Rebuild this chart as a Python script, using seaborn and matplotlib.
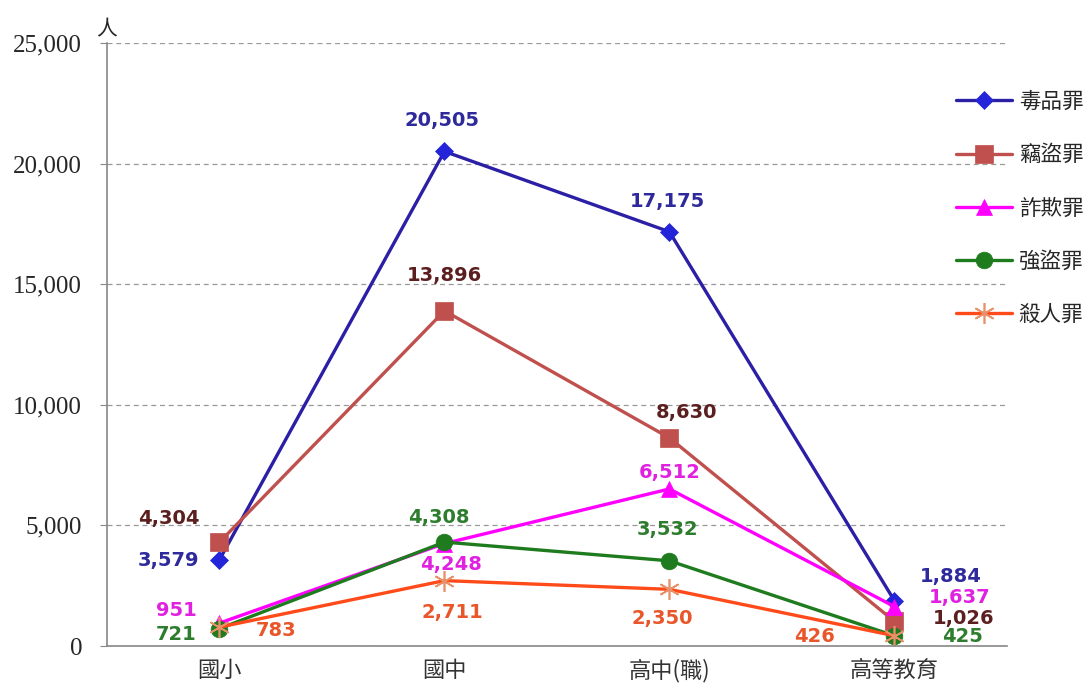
import pandas as pd
import seaborn as sns
import matplotlib.pyplot as plt
import numpy as np

levels = ['國小', '國中', '高中(職)', '高等教育']
crimes = ['毒品罪', '竊盜罪', '詐欺罪', '強盜罪', '殺人罪']
drug = [3579, 20505, 17175, 1884]
theft = [4304, 13896, 8630, 1026]
fraud = [951, 4248, 6512, 1637]
robbery = [721, 4308, 3532, 425]
homicide = [783, 2711, 2350, 426]
values = [drug, theft, fraud, robbery, homicide]

lineColors = ['#2B1FA5', '#C0504D', '#FF00FF', '#1E7B1E', '#FF4A1A']
markerColors = ['#2424D8', '#C0504D', '#FF00FF', '#1E7B1E', '#E8906A']
textColors = ['#2E2A9C', '#5C1F1F', '#E022E0', '#2E7D2E', '#E8562A']
markers = ['D', 's', '^', 'o', (6, 2, 0)]
markerSizes = [9, 13, 11, 12, 15]

# label offsets in pixels (dx, dy) per series and category
offsets = [
    [(-51, -1), (-2, 31), (-2, 30), (56, 24)],
    [(-51, 24), (0, 35), (17, 25), (69, 3)],
    [(-43, 13), (7, -21), (0, 16), (65, 9)],
    [(-43, -6), (-6, 25), (-2, 31), (68, -1)],
    [(57, -3), (8, -32), (-7, -29), (-80, -1)],
]

df = pd.DataFrame({
    'level': np.tile(levels, len(crimes)),
    'crime': np.repeat(crimes, len(levels)),
    'count': np.concatenate(values),
})

sns.set_style('white')
plt.rcParams['font.family'] = ['Noto Sans CJK TC', 'DejaVu Sans']

fig = plt.figure(figsize=(10.92, 6.86), dpi=100)
ax = fig.add_axes([0.098, 0.0583, 0.824, 0.879])

for i, crime in enumerate(crimes):
    sub = df[df['crime'] == crime]
    sns.lineplot(data=sub, x='level', y='count', ax=ax, color=lineColors[i], linewidth=2.4,
                 marker=markers[i], markersize=markerSizes[i], markerfacecolor=markerColors[i],
                 markeredgecolor=markerColors[i], markeredgewidth=1.2 if i == 4 else 0.5,
                 label=crime, sort=False)
    for j, v in enumerate(values[i]):
        dx, dy = offsets[i][j]
        ax.annotate(f'{v:,}', (j, v), xytext=(dx, dy), textcoords='offset pixels',
                    ha='center', va='center', fontsize=14, fontweight='bold',
                    color=textColors[i], family='DejaVu Sans')

ax.set_xlim(-0.5, 3.5)
ax.set_ylim(0, 25000)
ax.set_yticks(range(0, 25001, 5000))
ax.set_yticklabels([f'{t:,}' for t in range(0, 25001, 5000)], family='Liberation Serif', fontsize=18)
ax.set_xticks(range(4))
ax.set_xticklabels(levels, fontsize=16, color='#333333')
ax.set_xticks(np.arange(-0.5, 4, 1), minor=True)
ax.tick_params(axis='x', which='major', length=0, pad=9)
ax.tick_params(axis='x', which='minor', length=5, color='#888888', direction='out')
ax.tick_params(axis='y', length=5, color='#888888', direction='out', left=True, pad=13)
ax.set_xlabel('')
ax.set_ylabel('')
ax.yaxis.grid(True, linestyle=(0, (4, 3)), color='#999999', linewidth=0.9)
ax.set_axisbelow(True)
for s in ['top', 'right']:
    ax.spines[s].set_visible(False)
for s in ['left', 'bottom']:
    ax.spines[s].set_color('#888888')
    ax.spines[s].set_linewidth(1.2)

ax.annotate('人', (0, 1), xycoords='axes fraction', xytext=(0, 14), textcoords='offset pixels',
            ha='center', va='center', fontsize=15)

ax.legend(loc='upper left', bbox_to_anchor=(0.868, 0.88), bbox_transform=fig.transFigure,
          frameon=False, fontsize=15.5, handlelength=2.6, labelspacing=1.45, handletextpad=0.3,
          borderaxespad=0)

plt.savefig('out.png', dpi=100)
